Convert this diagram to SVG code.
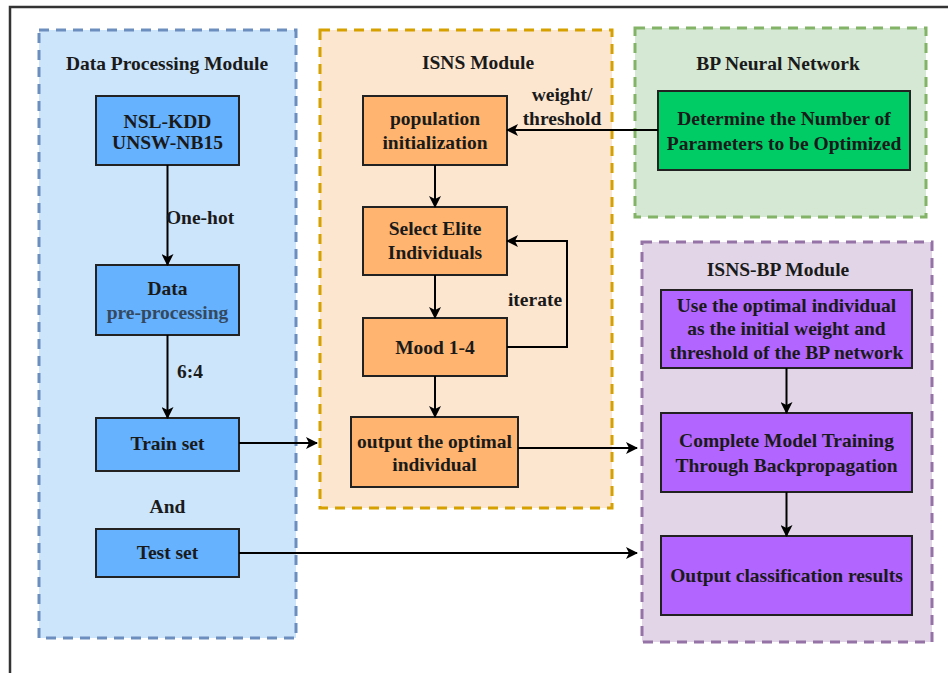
<svg xmlns="http://www.w3.org/2000/svg" width="948" height="673" viewBox="0 0 948 673">
<defs>
<marker id="ah" markerWidth="12" markerHeight="12" viewBox="0 0 12 12" refX="11" refY="6" orient="auto" markerUnits="userSpaceOnUse">
<path d="M0,0 L12,6 L0,12 L3,6 Z" fill="#000"/>
</marker>
<style>
text{font-weight:bold;font-size:19.5px;fill:#1a1a1a;text-anchor:middle;dominant-baseline:central}
.cont{stroke-width:3;stroke-dasharray:10 7}
.box{stroke:#222;stroke-width:2}
.ln{fill:none;stroke:#000;stroke-width:2}
</style>
</defs>
<rect width="948" height="673" fill="#fff"/>
<path d="M10,673 V7 H948" fill="none" stroke="#333" stroke-width="2.5"/>
<g font-family="'Liberation Serif', 'DejaVu Serif', serif">
<g id="data-processing-module">
<rect class="cont" x="39" y="30" width="257" height="608" fill="#cce5fa" stroke="#6c8ebf"/>
<text x="167" y="63">Data Processing Module</text>
</g>
<g id="isns-module">
<rect class="cont" x="320" y="30" width="292" height="478" fill="#fde6cf" stroke="#d6a000"/>
<text x="478" y="62">ISNS Module</text>
</g>
<g id="bp-neural-network">
<rect class="cont" x="635" y="28" width="291" height="189" fill="#d5e8d4" stroke="#82b366"/>
<text x="778" y="63">BP Neural Network</text>
</g>
<g id="isns-bp-module">
<rect class="cont" x="642" y="242" width="290" height="400" fill="#e1d5e7" stroke="#9673a6"/>
<text x="778" y="269">ISNS-BP Module</text>
</g>

<g id="nsl-kdd">
<rect class="box" x="96" y="96" width="143" height="69" fill="#66b2ff"/>
<text x="167.5" y="121">NSL-KDD</text>
<text x="167.5" y="142">UNSW-NB15</text>
</g>
<g id="data-preprocessing">
<rect class="box" x="96" y="265" width="143" height="70" fill="#66b2ff"/>
<text x="167.5" y="288">Data</text>
<text x="167.5" y="312" style="fill:#34495e">pre-processing</text>
</g>
<g id="train-set">
<rect class="box" x="96" y="418" width="143" height="53" fill="#66b2ff"/>
<text x="167.5" y="443">Train set</text>
</g>
<g id="and-label">
<text x="167.5" y="506">And</text>
</g>
<g id="test-set">
<rect class="box" x="96" y="529" width="143" height="48" fill="#66b2ff"/>
<text x="167.5" y="552">Test set</text>
</g>

<g id="population-init">
<rect class="box" x="363" y="96" width="144" height="69" fill="#ffb570"/>
<text x="435" y="118">population</text>
<text x="435" y="142">initialization</text>
</g>
<g id="select-elite">
<rect class="box" x="363" y="207" width="144" height="68" fill="#ffb570"/>
<text x="435" y="228">Select Elite</text>
<text x="435" y="252">Individuals</text>
</g>
<g id="mood">
<rect class="box" x="363" y="318" width="144" height="58" fill="#ffb570"/>
<text x="435" y="347">Mood 1-4</text>
</g>
<g id="output-optimal">
<rect class="box" x="351" y="417" width="167" height="70" fill="#ffb570"/>
<text x="434.5" y="441">output the optimal</text>
<text x="434.5" y="464">individual</text>
</g>

<g id="determine-params">
<rect class="box" x="658" y="91" width="252" height="79" fill="#00cc66"/>
<text x="784" y="118">Determine the Number of</text>
<text x="784" y="143">Parameters to be Optimized</text>
</g>

<g id="use-optimal">
<rect class="box" x="661" y="290" width="251" height="78" fill="#b266ff"/>
<text x="786.5" y="305">Use the optimal individual</text>
<text x="786.5" y="328">as the initial weight and</text>
<text x="786.5" y="352">threshold of the BP network</text>
</g>
<g id="complete-training">
<rect class="box" x="661" y="413" width="251" height="79" fill="#b266ff"/>
<text x="786.5" y="440">Complete Model Training</text>
<text x="786.5" y="465">Through Backpropagation</text>
</g>
<g id="output-results">
<rect class="box" x="661" y="536" width="251" height="79" fill="#b266ff"/>
<text x="786.5" y="575">Output classification results</text>
</g>

<g id="connectors">
<line class="ln" x1="167.5" y1="165" x2="167.5" y2="265" marker-end="url(#ah)"/>
<text x="200" y="217">One-hot</text>
<line class="ln" x1="167.5" y1="335" x2="167.5" y2="418" marker-end="url(#ah)"/>
<text x="190" y="371">6:4</text>
<line class="ln" x1="239" y1="443" x2="317" y2="443" marker-end="url(#ah)"/>
<line class="ln" x1="239" y1="553" x2="637" y2="553" marker-end="url(#ah)"/>
<line class="ln" x1="658" y1="130" x2="507" y2="130" marker-end="url(#ah)"/>
<text x="562" y="94">weight/</text>
<text x="562" y="118">threshold</text>
<line class="ln" x1="435" y1="165" x2="435" y2="207" marker-end="url(#ah)"/>
<line class="ln" x1="435" y1="275" x2="435" y2="318" marker-end="url(#ah)"/>
<path class="ln" d="M507,347 H567 V241 H507" marker-end="url(#ah)"/>
<text x="535" y="299">iterate</text>
<line class="ln" x1="435" y1="376" x2="435" y2="417" marker-end="url(#ah)"/>
<line class="ln" x1="518" y1="448" x2="637" y2="448" marker-end="url(#ah)"/>
<line class="ln" x1="786.5" y1="368" x2="786.5" y2="413" marker-end="url(#ah)"/>
<line class="ln" x1="786.5" y1="492" x2="786.5" y2="536" marker-end="url(#ah)"/>
</g>
</g>
</svg>
